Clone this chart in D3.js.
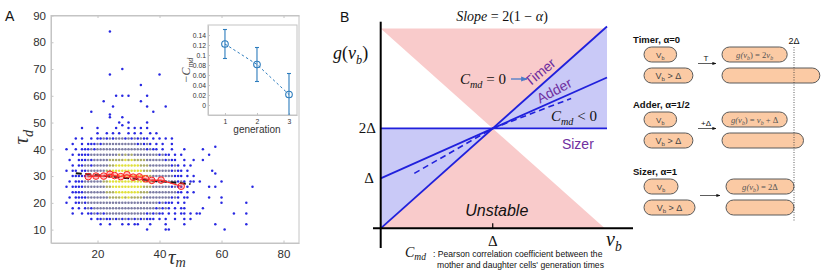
<!DOCTYPE html>
<html>
<head>
<meta charset="utf-8">
<script src="https://cdn.jsdelivr.net/npm/d3@7"></script>
<style>
  body { margin: 0; background: #fff; }
  svg { display: block; }
</style>
</head>
<body>
<svg id="fig" width="830" height="274"></svg>
<script>
// ---------- panel A : scatter of daughter vs mother generation time ----------
// dense part of the cloud, one string per tau_d row, one char per tau_m minute from 10
// b = blue (sparse), g = grey, o = olive, y = yellow (densest)
const scatterX0 = 10;
const scatterRowY = [48, 46, 44, 42, 40, 38, 36, 34, 32, 30, 28, 26, 24, 22, 20, 18, 16, 14, 12, 10];
const scatterRows = [
  "     b    b     b   b b b b",
  "          b  b b b  b b b  b b",
  "   b b  b bbgbgbgggbgbgbgbb b b b b",
  "  b  b bbbgbgggggggggggbgbgb b b  b",
  "b  b bbbgbggggggggggggggggbgbb b  b   b",
  "  b bbbbgggggggggogogoggggggggbgbb b b",
  " b  bbbgbgggggoooooyoyooooggggggbgbb  b  b",
  "  b bbggbgggggooyyyyyyyyooogggggggbgb b",
  "b bb bbggggggooyyyyyyyyyyoooggggggbgbb b",
  "  bbbbbggggggooyyyyyyyyyyyoogggggggbbb b b",
  " b bbbggggggooyyyyyyyyyyyyooogggggggbgb b  b",
  "b bbbbgggggggooyyyyyyyyyyoooggggggbgbb b",
  "  bbbbgggggggoooyyyyyyyyooogggggggggbb b b",
  " b bbbbgggggggooooyoyoooogggggggggbgb bb",
  "b  bbgbgggggggggggggggggggggggbgbbb b b",
  "  b b bgbggggggggggggggggggggbgbgb b bb",
  "  b  b bbgbgbgggggggggggggbgbgbb b b bb b",
  "        b bbgbbgbgbgbgbgbgbbb b b  b  b",
  "           b  b   b b bb   b    b",
  "                          b     bb"
];
// isolated points outside the cloud
const outlierX = [24, 28, 24, 40, 34, 36, 26, 28, 30, 22, 34, 25, 36, 42, 18, 24, 38, 24, 28, 27, 28, 30, 36,
                  54, 58, 56, 54, 50, 57, 58, 51, 60, 56, 58, 70, 56, 60, 60, 68, 54, 68, 64, 52, 53, 50, 48, 58, 68, 61];
const outlierY = [84, 70, 68, 68, 64, 60, 60, 60, 60, 58, 58, 56, 56, 56, 54, 53, 54, 52, 52, 50, 49, 50, 50,
                  40, 41, 38, 36, 34, 32, 31, 28, 28, 26, 26, 26, 22, 22, 20, 20, 18, 16, 16, 16, 16, 14, 12, 12, 12, 10];
// binned mean (red) and linear fit (black dashed)
const meanX = [17, 19.5, 22, 24, 25.5, 27.5, 29.5, 31.5, 33.5, 35.5, 37.5, 40.5, 47];
const meanY = [29.8, 30, 30, 30.7, 30.2, 29.8, 30.5, 29.6, 29.7, 29, 28.4, 28.5, 26.2];
const fitX = [13, 50];
const fitY = [31.1, 27];
const xTicksA = [20, 40, 60, 80];
const yTicksA = [10, 20, 30, 40, 50, 60, 70, 80, 90];
// inset: -C_md per generation
const generations = [1, 2, 3];
const cmdMean = [0.122, 0.081, 0.021];
const cmdErr = [0.029, 0.034, 0.042];
const insetYTicks = [0, 0.02, 0.04, 0.06, 0.08, 0.1, 0.12, 0.14];

// ---------- panel B : g(v_b) phase diagram ----------
const vbEnds = [0, 2.02];
const timerG = [0, 4.04];
const adderG = [1, 3.02];
const sizerG = [2, 2];
const dashedV = [0.3, 1, 1.7];
const dashedG = [1.1, 2, 2.6];
const pinkRegions = [
  [[0, 4], [2, 4], [1, 2]],
  [[0, 0], [1, 2], [2, 0]]
];
const blueRegions = [
  [[0, 0], [1, 2], [0, 2]],
  [[1, 2], [2, 4], [2.02, 4], [2.02, 2]]
];

// ---------- schematic ----------
const schemeTitles = ["Timer, α=0", "Adder, α=1/2", "Sizer, α=1"];
const schemeOps = ["T", "+Δ", ""];
const birthSizes = [1, 1.5];            // in units of Δ
const daughterLabels = ["g(v_b) = 2v_b", "g(v_b) = v_b + Δ", "g(v_b) = 2Δ"];
const growthRule = [v => 2 * v, v => v + 1, v => 2];

const svg = d3.select('#fig');
const serif = "'Liberation Serif', 'DejaVu Serif', serif";
const sans = "'Liberation Sans', Arial, sans-serif";

const defs = svg.append('defs');
defs.append('marker').attr('id', 'ahBlack').attr('viewBox', '0 0 10 10')
  .attr('refX', 9).attr('refY', 5).attr('markerWidth', 5).attr('markerHeight', 5)
  .attr('orient', 'auto').append('path').attr('d', 'M0,1L10,5L0,9Z').attr('fill', '#111');
defs.append('marker').attr('id', 'ahBlue').attr('viewBox', '0 0 10 10')
  .attr('refX', 9).attr('refY', 5).attr('markerWidth', 5).attr('markerHeight', 5)
  .attr('orient', 'auto').append('path').attr('d', 'M0,1L10,5L0,9Z').attr('fill', '#4a7bc8');

// subscripted text helper: parts = [[text, style]] style: 'i' italic, 's' italic subscript, 'sn' upright subscript, 'n' normal
function richText(g, x, y, parts, size, opts = {}) {
  const t = g.append('text').attr('x', x).attr('y', y)
    .attr('font-family', opts.family || serif).attr('font-size', size)
    .attr('fill', opts.fill || '#111')
    .attr('text-anchor', opts.anchor || 'start');
  if (opts.transform) t.attr('transform', opts.transform);
  const drop = opts.drop || 0.25;
  let shifted = false;
  parts.forEach(([txt, st]) => {
    const sp = t.append('tspan').text(txt);
    if (st === 's' || st === 'sn') {
      sp.attr('font-size', size * 0.68).attr('dy', shifted ? 0 : size * drop);
      if (st === 's') sp.attr('font-style', 'italic');
      shifted = true;
    } else {
      if (shifted) { sp.attr('dy', -size * drop); shifted = false; }
      if (st === 'i') sp.attr('font-style', 'italic');
    }
  });
  return t;
}

// ================= PANEL A =================
const gA = svg.append('g');
const xA = d3.scaleLinear().domain([5, 85]).range([51, 299]);
const yA = d3.scaleLinear().domain([5, 90]).range([243, 15.5]);

gA.append('rect').attr('x', xA(5)).attr('y', yA(90))
  .attr('width', xA(85) - xA(5)).attr('height', yA(5) - yA(90))
  .attr('fill', '#fff').attr('stroke', '#c4c4c4').attr('stroke-width', 1);

const axB = gA.append('g').attr('transform', `translate(0,${yA(5)})`)
  .call(d3.axisBottom(xA).tickValues(xTicksA).tickSizeInner(-2.5).tickSizeOuter(0).tickPadding(7));
const axT = gA.append('g').attr('transform', `translate(0,${yA(90)})`)
  .call(d3.axisTop(xA).tickValues(xTicksA).tickSizeInner(-2.5).tickSizeOuter(0).tickFormat(''));
const axL = gA.append('g').attr('transform', `translate(${xA(5)},0)`)
  .call(d3.axisLeft(yA).tickValues(yTicksA).tickSizeInner(-2.5).tickSizeOuter(0).tickPadding(5));
[axB, axT, axL].forEach(a => {
  a.select('.domain').attr('stroke', '#c4c4c4');
  a.selectAll('.tick line').attr('stroke', '#c4c4c4');
  a.selectAll('text').attr('font-family', sans).attr('font-size', 11.5).attr('fill', '#303030');
});

const pointColor = { b: '#2828e2', g: '#7c7ca4', o: '#abab66', y: '#e0e03a' };
const level = { b: 0, g: 1, o: 2, y: 3 };
const cloud = [];
scatterRows.forEach((row, i) => {
  [...row].forEach((c, j) => {
    if (c !== ' ') cloud.push({ x: scatterX0 + j, y: scatterRowY[i], c });
  });
});
outlierX.forEach((x, i) => cloud.push({ x, y: outlierY[i], c: 'b' }));
cloud.sort((a, b) => level[a.c] - level[b.c]);

gA.append('g').selectAll('circle').data(cloud).join('circle')
  .attr('cx', d => xA(d.x)).attr('cy', d => yA(d.y)).attr('r', 1.25)
  .attr('fill', d => pointColor[d.c]);

gA.append('path')
  .attr('d', d3.line().x(d => xA(d[0])).y(d => yA(d[1]))(fitX.map((x, i) => [x, fitY[i]])))
  .attr('stroke', '#111').attr('stroke-width', 2).attr('stroke-dasharray', '6,3.5').attr('fill', 'none');

const meanPts = meanX.map((x, i) => [x, meanY[i]]);
gA.append('path')
  .attr('d', d3.line().x(d => xA(d[0])).y(d => yA(d[1]))(meanPts))
  .attr('stroke', '#ff2222').attr('stroke-width', 1.2).attr('fill', 'none');
gA.append('g').selectAll('circle').data(meanPts).join('circle')
  .attr('cx', d => xA(d[0])).attr('cy', d => yA(d[1])).attr('r', 3.3)
  .attr('fill', 'rgba(255,90,90,0.35)').attr('stroke', '#ff2222').attr('stroke-width', 1);

gA.append('text').attr('x', 5).attr('y', 21).text('A')
  .attr('font-family', sans).attr('font-size', 14).attr('fill', '#111');
richText(gA, 0, 0, [['τ', 'i'], ['d', 's']], 21,
  { transform: `translate(28,${(yA(5) + yA(90)) / 2 + 8}) rotate(-90)`, anchor: 'middle', fill: '#333' });
richText(gA, (xA(5) + xA(85)) / 2 + 2, 264, [['τ', 'i'], ['m', 's']], 21, { anchor: 'middle', fill: '#333', drop: 0.15 });

// inset
const xI = d3.scaleLinear().domain([0.47, 3.25]).range([208, 297]);
const yI = d3.scaleLinear().domain([-0.02, 0.16]).range([115, 25]);
const gI = gA.append('g');
gI.append('rect').attr('x', xI(0.47)).attr('y', yI(0.16))
  .attr('width', xI(3.25) - xI(0.47)).attr('height', yI(-0.02) - yI(0.16))
  .attr('fill', '#fff').attr('stroke', '#c4c4c4');
const iB = gI.append('g').attr('transform', `translate(0,${yI(-0.02)})`)
  .call(d3.axisBottom(xI).tickValues(generations).tickSizeInner(-2).tickSizeOuter(0).tickPadding(4)
    .tickFormat(d3.format('d')));
const iL = gI.append('g').attr('transform', `translate(${xI(0.47)},0)`)
  .call(d3.axisLeft(yI).tickValues(insetYTicks).tickSizeInner(-2).tickSizeOuter(0).tickPadding(2)
    .tickFormat(d => d === 0 ? '0' : String(+d.toFixed(2))));
[iB, iL].forEach(a => {
  a.select('.domain').attr('stroke', '#c4c4c4');
  a.selectAll('.tick line').attr('stroke', '#c4c4c4');
  a.selectAll('text').attr('font-family', sans).attr('font-size', 6.8).attr('fill', '#333');
});
gI.append('text').attr('x', xI(2)).attr('y', 133).attr('text-anchor', 'middle')
  .attr('font-family', sans).attr('font-size', 10).attr('fill', '#333').text('generation');
richText(gI, 0, 0, [['−', 'n'], ['C', 'i'], ['md', 's']], 12,
  { transform: `translate(190,${(yI(-0.02) + yI(0.16)) / 2}) rotate(-90)`, anchor: 'middle', fill: '#444' });

const insBlue = '#2c7cbd';
defs.append('clipPath').attr('id', 'clipInset').append('rect')
  .attr('x', xI(0.47)).attr('y', yI(0.16)).attr('width', xI(3.25) - xI(0.47)).attr('height', yI(-0.02) - yI(0.16));
const gIc = gI.append('g').attr('clip-path', 'url(#clipInset)');
gIc.append('path')
  .attr('d', d3.line().x((d, i) => xI(generations[i])).y(d => yI(d))(cmdMean))
  .attr('stroke', insBlue).attr('stroke-width', 1).attr('stroke-dasharray', '2.5,2.5').attr('fill', 'none');
generations.forEach((g, i) => {
  const x = xI(g);
  gIc.append('line').attr('x1', x).attr('x2', x)
    .attr('y1', yI(cmdMean[i] + cmdErr[i])).attr('y2', yI(cmdMean[i] - cmdErr[i]))
    .attr('stroke', insBlue).attr('stroke-width', 1.1);
  [cmdMean[i] + cmdErr[i], cmdMean[i] - cmdErr[i]].forEach(v => {
    gIc.append('line').attr('x1', x - 2).attr('x2', x + 2).attr('y1', yI(v)).attr('y2', yI(v))
      .attr('stroke', insBlue).attr('stroke-width', 1.1);
  });
  gIc.append('circle').attr('cx', x).attr('cy', yI(cmdMean[i])).attr('r', 3.3)
    .attr('fill', 'none').attr('stroke', insBlue).attr('stroke-width', 1.1);
});

// ================= PANEL B =================
const gB = svg.append('g');
const xB = d3.scaleLinear().domain([0, 2.02]).range([380.7, 607]);
const yB = d3.scaleLinear().domain([0, 4]).range([228.3, 28.5]);
const poly = d3.line().x(d => xB(d[0])).y(d => yB(d[1]));

pinkRegions.forEach(p => gB.append('path').attr('d', poly(p) + 'Z').attr('fill', '#f9cbcb'));
blueRegions.forEach(p => gB.append('path').attr('d', poly(p) + 'Z').attr('fill', '#c9c9f7'));

const lineBlue = '#2020dc';
gB.append('path').attr('d', poly(dashedV.map((v, i) => [v, dashedG[i]])))
  .attr('stroke', lineBlue).attr('stroke-width', 1.6).attr('stroke-dasharray', '6,4').attr('fill', 'none');
[timerG, adderG, sizerG].forEach(gv => {
  gB.append('path').attr('d', poly(vbEnds.map((v, i) => [v, gv[i]])))
    .attr('stroke', lineBlue).attr('stroke-width', 1.8).attr('fill', 'none');
});

// axes
gB.append('line').attr('x1', xB(0)).attr('x2', xB(0)).attr('y1', 21.7).attr('y2', 248)
  .attr('stroke', '#000').attr('stroke-width', 2);
gB.append('line').attr('x1', 373).attr('x2', 633).attr('y1', yB(0)).attr('y2', yB(0))
  .attr('stroke', '#000').attr('stroke-width', 2);
gB.append('line').attr('x1', xB(1)).attr('x2', xB(1)).attr('y1', yB(0) - 5).attr('y2', yB(0))
  .attr('stroke', '#000').attr('stroke-width', 1.2);

gB.append('text').attr('x', 340).attr('y', 22).text('B')
  .attr('font-family', sans).attr('font-size', 14).attr('fill', '#111');
richText(gB, 502, 21, [['Slope', 'i'], [' = 2(1 − ', 'n'], ['α', 'i'], [')', 'n']], 14, { anchor: 'middle' });
richText(gB, 333, 59, [['g', 'i'], ['(', 'n'], ['v', 'i'], ['b', 's'], [')', 'n']], 18);
gB.append('text').attr('x', 376).attr('y', yB(2) + 5).attr('text-anchor', 'end')
  .attr('font-family', serif).attr('font-size', 15).attr('fill', '#111').text('2Δ');
gB.append('text').attr('x', 374).attr('y', yB(1) + 5).attr('text-anchor', 'end')
  .attr('font-family', serif).attr('font-size', 15).attr('fill', '#111').text('Δ');
gB.append('text').attr('x', xB(1)).attr('y', 246).attr('text-anchor', 'middle')
  .attr('font-family', serif).attr('font-size', 15).attr('fill', '#111').text('Δ');
richText(gB, 606, 246, [['v', 'i'], ['b', 's']], 20);
gB.append('text').attr('x', xB(1.036)).attr('y', 216).attr('text-anchor', 'middle')
  .attr('font-family', sans).attr('font-style', 'italic').attr('font-size', 16).attr('fill', '#111').text('Unstable');

const purple = '#7030a0';
const angT = Math.atan2(yB(0) - yB(2), xB(1) - xB(0)) * 180 / Math.PI;
const angA = Math.atan2(yB(0) - yB(1), xB(1) - xB(0)) * 180 / Math.PI;
gB.append('text').attr('transform', `translate(${xB(1.45)},${yB(3.15) + 5}) rotate(${-angT + 2})`)
  .attr('text-anchor', 'middle').attr('font-family', sans).attr('font-size', 14).attr('fill', purple).text('Timer');
gB.append('text').attr('transform', `translate(${xB(1.57)},${yB(2.77) + 5}) rotate(${-angA - 4})`)
  .attr('text-anchor', 'middle').attr('font-family', sans).attr('font-size', 14).attr('fill', purple).text('Adder');
gB.append('text').attr('x', xB(1.76)).attr('y', yB(1.69) + 5).attr('text-anchor', 'middle')
  .attr('font-family', sans).attr('font-size', 14).attr('fill', purple).text('Sizer');

richText(gB, 460, 84, [['C', 'i'], ['md', 's'], [' = 0', 'n']], 15);
gB.append('line').attr('x1', 511).attr('x2', 527).attr('y1', 79).attr('y2', 79)
  .attr('stroke', '#4a7bc8').attr('stroke-width', 1.3).attr('marker-end', 'url(#ahBlue)');
richText(gB, 551, 121, [['C', 'i'], ['md', 's'], [' < 0', 'n']], 15);

richText(gB, 405, 257, [['C', 'i'], ['md', 's']], 14, { drop: 0.18 });
gB.append('text').attr('x', 433).attr('y', 257).attr('font-family', sans).attr('font-size', 8.6)
  .attr('fill', '#111').text(': Pearson correlation coefficient between the');
gB.append('text').attr('x', 437).attr('y', 268).attr('font-family', sans).attr('font-size', 8.6)
  .attr('fill', '#111').text("mother and daughter cells' generation times");

// ================= schematic =================
const gS = svg.append('g');
const rowTop = [40, 105, 172];
const cellUnit = [32.6, 32.6, 34];
const leftX0 = 644, rightX0 = [722, 722, 726];
const cellFill = '#fbcaa4', cellStroke = '#5a5a5a';

function pill(g, x, y, w, h) {
  g.append('rect').attr('x', x).attr('y', y).attr('width', w).attr('height', h)
    .attr('rx', h / 2).attr('ry', h / 2).attr('fill', cellFill).attr('stroke', cellStroke).attr('stroke-width', 1);
}

schemeTitles.forEach((title, k) => {
  const top = rowTop[k];
  const u = cellUnit[k];
  gS.append('text').attr('x', 633).attr('y', top + 3).attr('font-family', sans)
    .attr('font-weight', 'bold').attr('font-size', 9.5).attr('fill', '#111').text(title);
  birthSizes.forEach((v, r) => {
    const y = top + 7 + r * 21;
    pill(gS, leftX0, y, v * u, 15);
    const lbl = r === 0 ? [['V', 'n'], ['b', 'sn']] : [['V', 'n'], ['b', 'sn'], [' > Δ', 'n']];
    richText(gS, leftX0 + v * u / 2, y + 10.5, lbl, r === 0 ? 8 : 9, { family: sans, anchor: 'middle', fill: '#444' });
    pill(gS, rightX0[k], y, growthRule[k](v) * u, 15);
  });
  const dl = daughterLabels[k];
  const parts = dl.split(/(v_b)/).filter(s => s).flatMap(s =>
    s === 'v_b' ? [['v', 'i'], ['b', 's']] : [[s, s.startsWith('g') ? 'i' : 'n']]);
  richText(gS, rightX0[k] + growthRule[k](birthSizes[0]) * u / 2, top + 18, parts, 8.6, { anchor: 'middle', fill: '#555' });
  const ay = top + 23.5;
  gS.append('line').attr('x1', k === 2 ? 700 : 698).attr('x2', k === 2 ? 720 : 716).attr('y1', ay).attr('y2', ay)
    .attr('stroke', '#333').attr('stroke-width', 0.8).attr('marker-end', 'url(#ahBlack)');
  if (schemeOps[k]) {
    gS.append('text').attr('x', 706).attr('y', ay - 2.5).attr('text-anchor', 'middle')
      .attr('font-family', sans).attr('font-size', 8).attr('fill', '#111').text(schemeOps[k]);
  }
});

const x2D = rightX0[2] + 2 * cellUnit[2];
gS.append('line').attr('x1', x2D).attr('x2', x2D).attr('y1', 47).attr('y2', 222)
  .attr('stroke', '#333').attr('stroke-width', 0.8).attr('stroke-dasharray', '1,1.5');
gS.append('text').attr('x', x2D).attr('y', 44).attr('text-anchor', 'middle')
  .attr('font-family', sans).attr('font-size', 9).attr('fill', '#111').text('2Δ');
</script>
</body>
</html>
